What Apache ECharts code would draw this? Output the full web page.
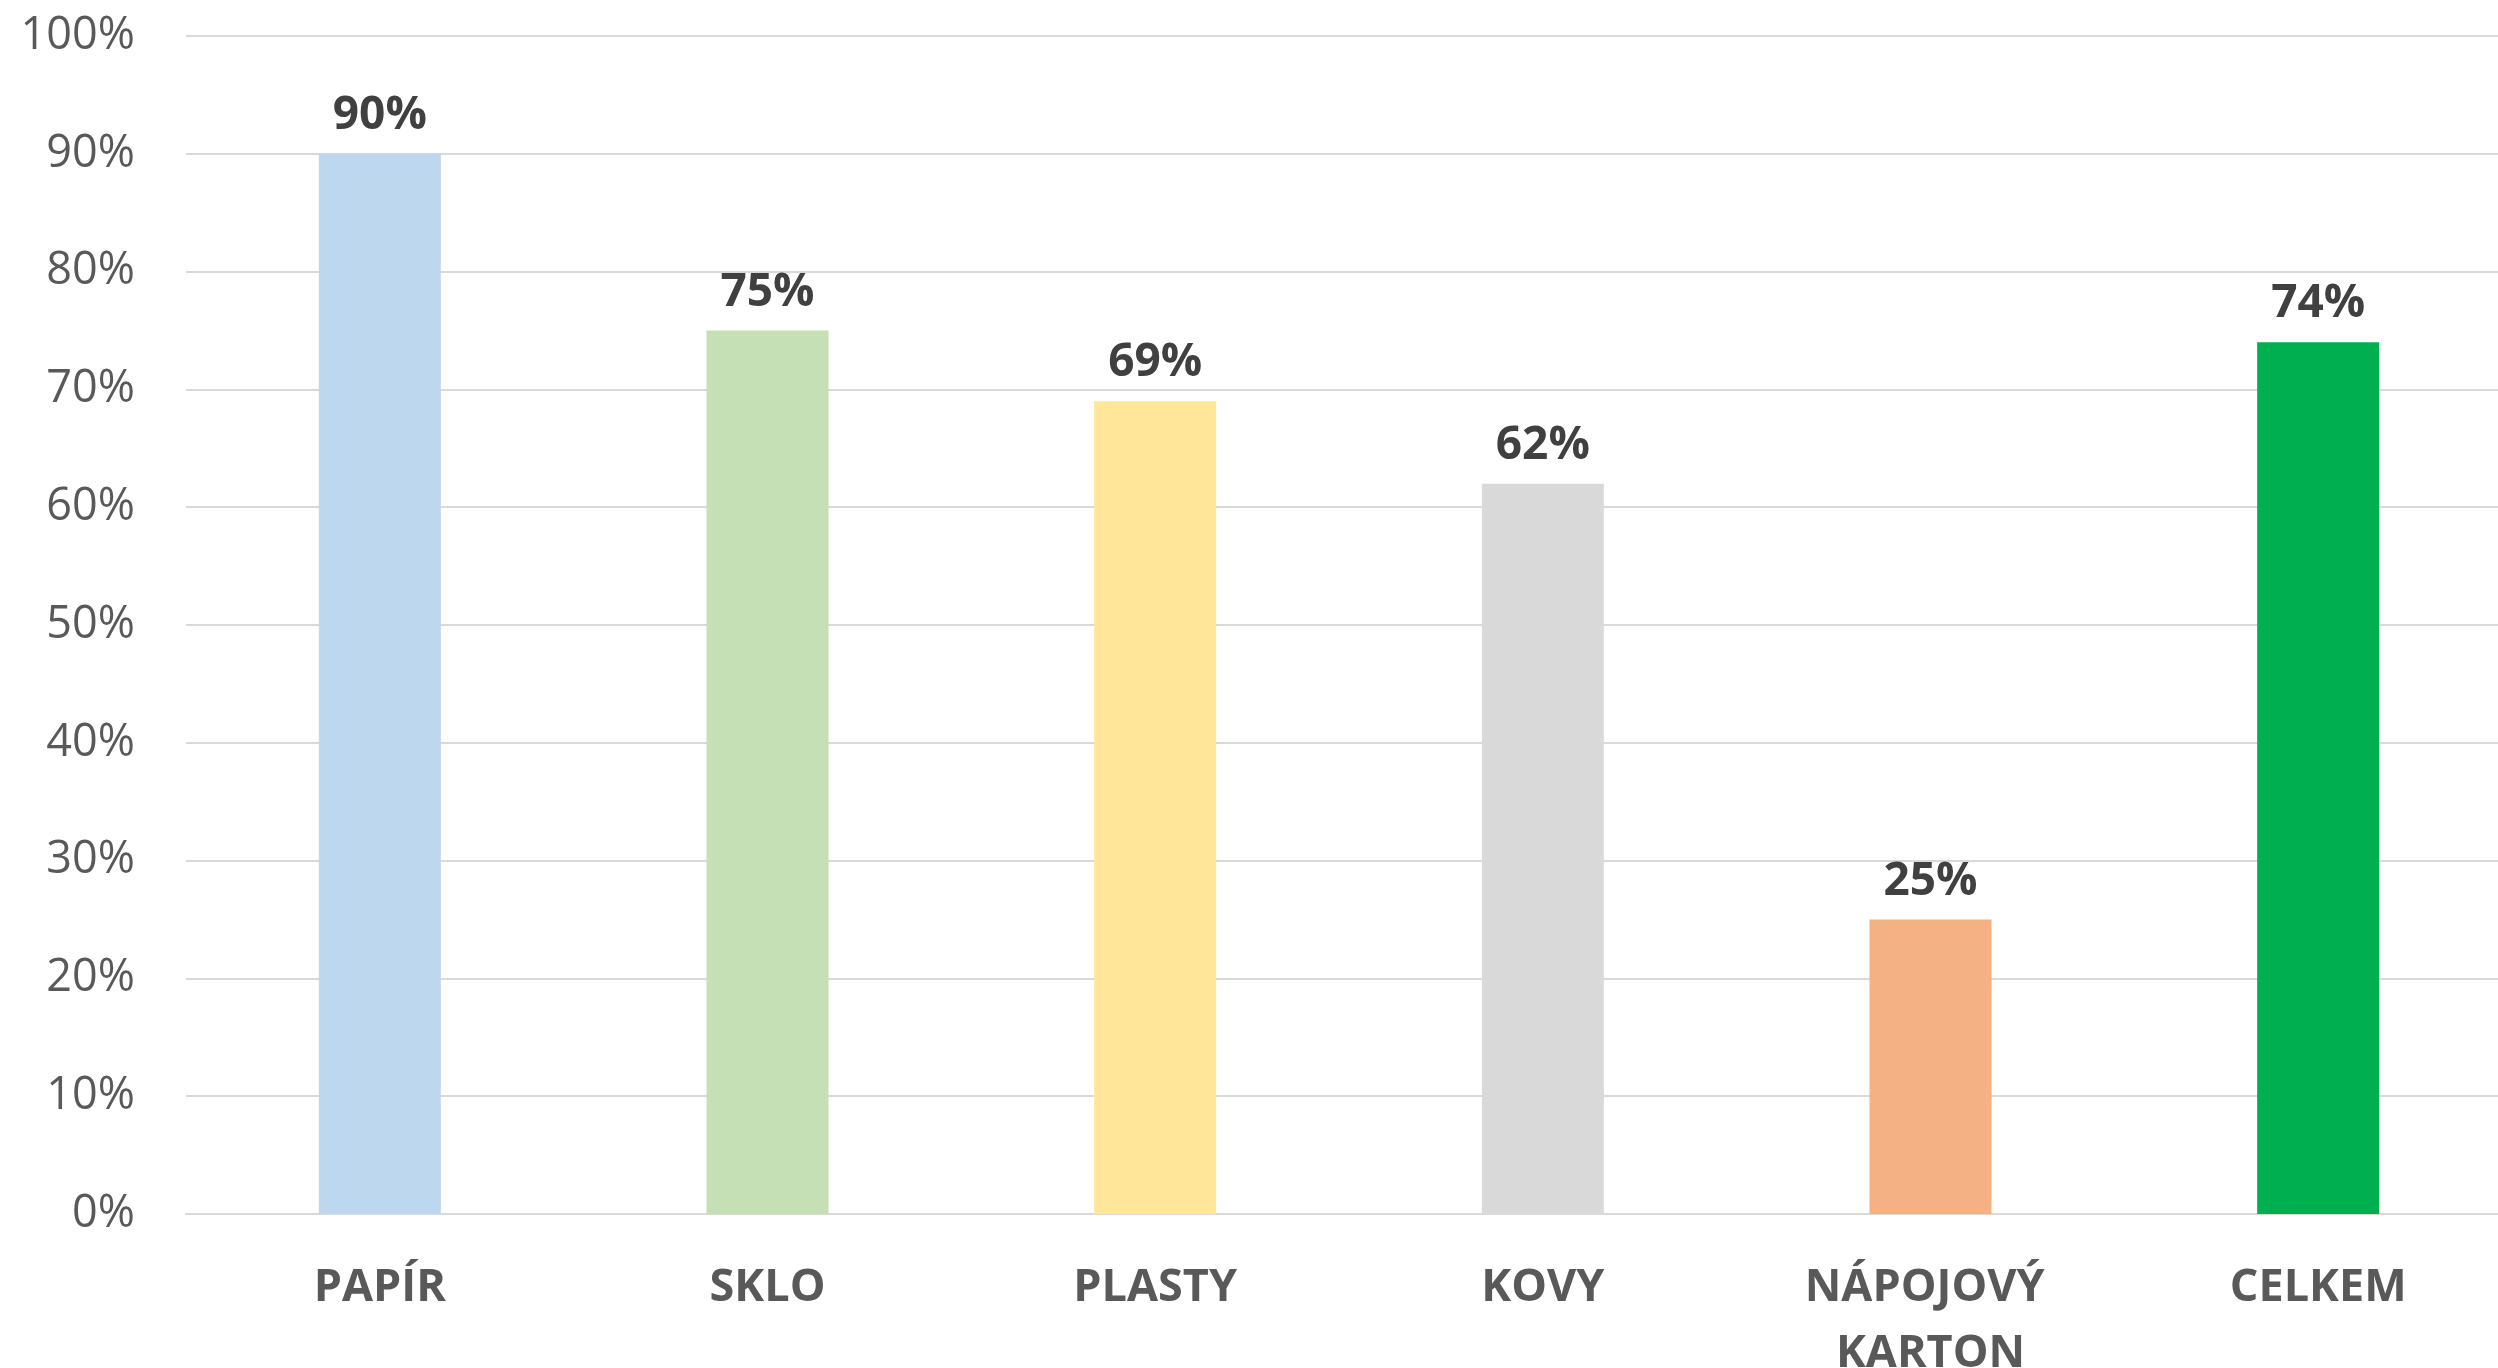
<!DOCTYPE html>
<html>
<head>
<meta charset="utf-8">
<title>Recyklace obalů</title>
<script src="https://cdn.jsdelivr.net/npm/echarts@6/dist/echarts.min.js"></script>
<style>
    html, body { margin: 0; padding: 0; background: #ffffff; }
    #chart { width: 2498px; height: 1368px; }
</style>
</head>
<body>
<div id="chart"></div>
<script>
    const categories = ['PAPÍR', 'SKLO', 'PLASTY', 'KOVY', 'NÁPOJOVÝ KARTON', 'CELKEM']
    const values = [90, 75, 69, 62, 25, 74]
    const barColors = ['#BDD7EE', '#C5E0B4', '#FFE699', '#D9D9D9', '#F4B183', '#00B050']
    const yTicks = [0, 10, 20, 30, 40, 50, 60, 70, 80, 90, 100]

    const chart = echarts.init(document.getElementById('chart'))
    const option = {
        animation: false,
        backgroundColor: '#ffffff',
        grid: {
            left: 186,
            right: -14,
            top: 36,
            bottom: 154,
            outerBoundsMode: 'none' // labels may go past the edge, like the original
        },
        xAxis: {
            type: 'category',
            data: categories,
            axisTick: { show: false },
            axisLine: {
                show: true,
                lineStyle: { color: '#D9D9D9', width: 2 }
            },
            axisLabel: {
                interval: 0,
                margin: 41,
                color: '#595959',
                fontFamily: 'Open Sans',
                fontWeight: 'bold',
                fontSize: 45,
                lineHeight: 66,
                width: 340,
                overflow: 'break'
            }
        },
        yAxis: {
            type: 'value',
            min: yTicks[0],
            max: yTicks[yTicks.length - 1],
            interval: 10,
            axisLine: { show: false },
            axisTick: { show: false },
            axisLabel: {
                margin: 51,
                color: '#595959',
                fontFamily: 'Open Sans',
                fontSize: 45,
                formatter: '{value}%'
            },
            splitLine: {
                show: true,
                lineStyle: { color: '#D9D9D9', width: 2 }
            }
        },
        series: [{
            type: 'bar',
            barWidth: 122,
            data: values.map((v, i) => ({
                value: v,
                itemStyle: { color: barColors[i] }
            })),
            label: {
                show: true,
                position: 'top',
                distance: 15,
                color: '#404040',
                fontFamily: 'Open Sans',
                fontWeight: 'bold',
                fontSize: 46,
                lineHeight: 46,
                formatter: '{c}%'
            }
        }]
    }
    chart.setOption(option)
</script>
</body>
</html>
